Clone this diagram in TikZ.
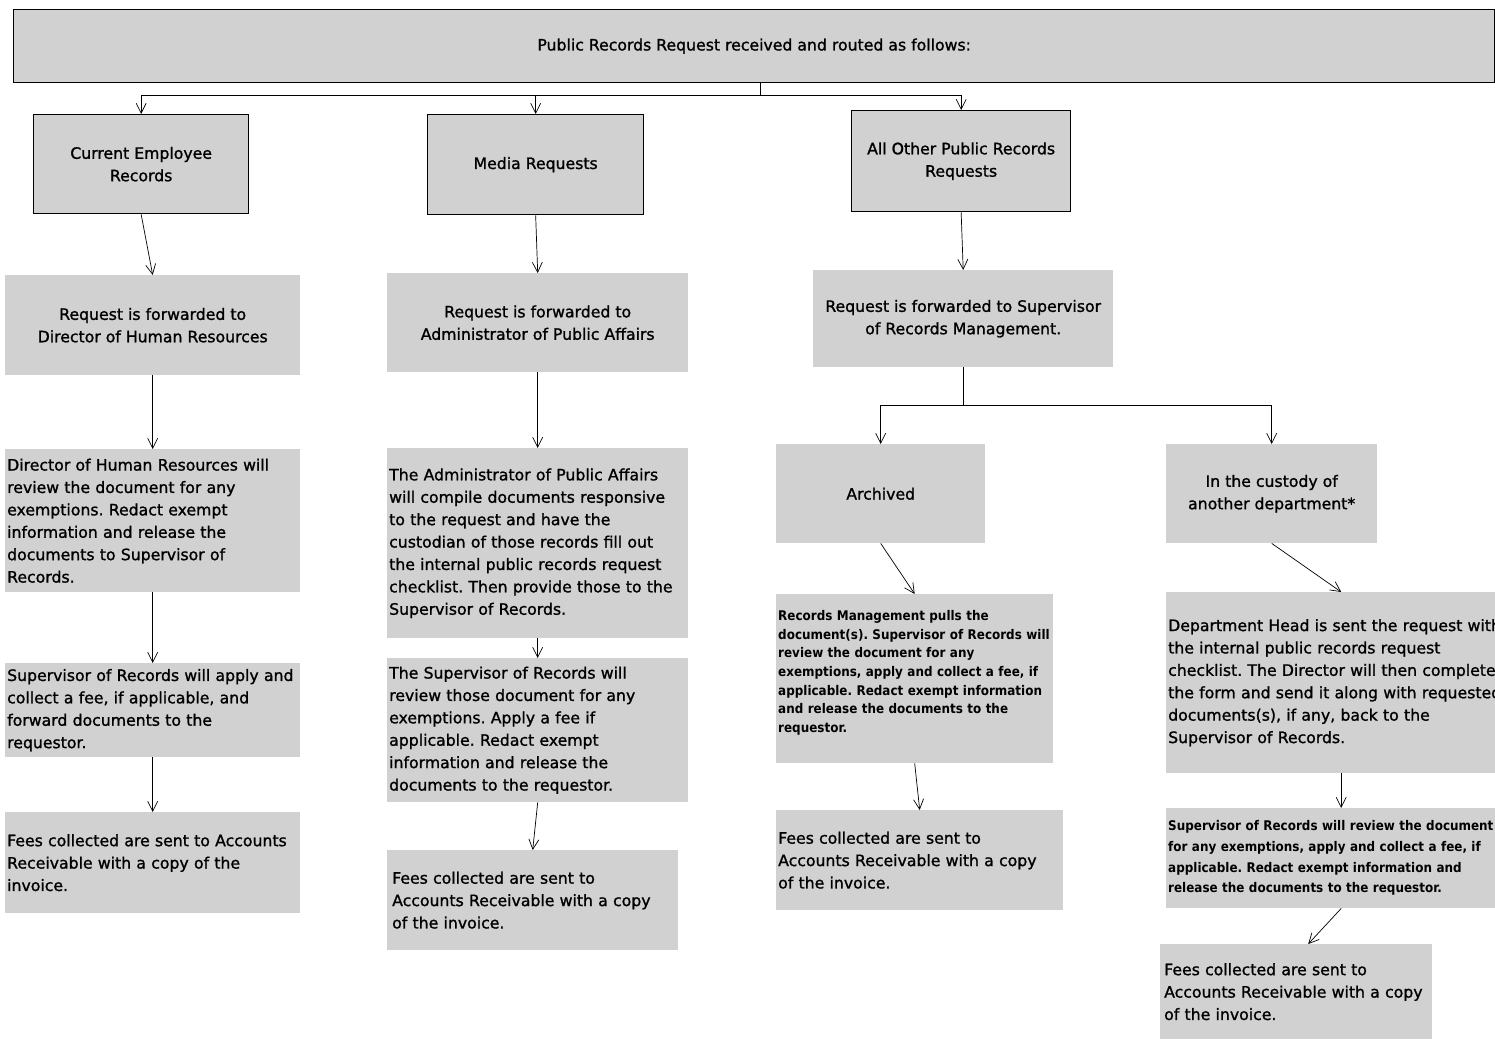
\documentclass[tikz,border=0pt]{standalone}
\usepackage{fontspec}
\setmainfont{DejaVu Sans}[FakeBold=1.2]
\newfontfamily\smallfam{DejaVu Sans}[FakeStretch=0.9]
\usetikzlibrary{arrows.meta}
\definecolor{boxgray}{gray}{0.82}
\frenchspacing
\tikzset{
 bx/.style={fill=boxgray, anchor=north west, inner xsep=2pt, inner ysep=0pt, font=\frenchspacing\fontsize{15.7}{22.4}\selectfont},
 catbox/.style={bx, draw=black, line width=1.3pt, align=center},
 cbox/.style={bx, align=center},
 lbox/.style={bx, align=left},
 sbox/.style={lbox, font=\frenchspacing\smallfam\bfseries\fontsize{13.3}{18.7}\selectfont},
 arr/.style={draw=black, line width=0.7pt, -{Straight Barb[length=10pt,width=10pt]}},
 ln/.style={draw=black, line width=0.7pt}
}
\begin{document}
\begin{tikzpicture}[x=1pt,y=-1pt]
\useasboundingbox (0,0) rectangle (1495,1039);
\clip (0,0) rectangle (1495,1039);
% banner
\node[catbox, minimum width=1481pt, minimum height=73pt] (banner) at (13,9) {Public Records Request received and routed as follows:};
% categories
\node[catbox, minimum width=215pt, minimum height=99pt] (cer) at (33,114) {Current Employee\\Records};
\node[catbox, minimum width=216pt, minimum height=100pt] (media) at (427,114) {Media Requests};
\node[catbox, minimum width=219pt, minimum height=101pt] (other) at (851,110) {All Other Public Records\\Requests};
% row 2
\node[cbox, minimum width=295pt, minimum height=100pt] (l2) at (5,275) {Request is forwarded to\\Director of Human Resources};
\node[cbox, minimum width=301pt, minimum height=99pt] (m2) at (387,273) {Request is forwarded to\\Administrator of Public Affairs};
\node[cbox, minimum width=300pt, minimum height=97pt] (r2) at (813,270) {Request is forwarded to Supervisor\\of Records Management.};
% row 3
\node[lbox, minimum width=295pt, minimum height=143pt, text width=291pt] (l3) at (5,449) {Director of Human Resources will\\review the document for any\\exemptions. Redact exempt\\information and release the\\documents to Supervisor of\\Records.};
\node[lbox, minimum width=301pt, minimum height=190pt, text width=297pt] (m3) at (387,448) {The Administrator of Public Affairs\\will compile documents responsive\\to the request and have the\\custodian of those records fill out\\the internal public records request\\checklist. Then provide those to the\\Supervisor of Records.};
\node[cbox, minimum width=209pt, minimum height=99pt] (arch) at (776,444) {Archived};
\node[cbox, minimum width=211pt, minimum height=99pt] (cust) at (1166,444) {In the custody of\\another department*};
% row 4
\node[lbox, minimum width=295pt, minimum height=94pt, text width=291pt] (l4) at (5,663) {Supervisor of Records will apply and\\collect a fee, if applicable, and\\forward documents to the\\requestor.};
\node[lbox, minimum width=301pt, minimum height=144pt, text width=297pt] (m4) at (387,658) {The Supervisor of Records will\\review those document for any\\exemptions. Apply a fee if\\applicable. Redact exempt\\information and release the\\documents to the requestor.};
\node[sbox, minimum width=277pt, minimum height=169pt, text width=273pt] (archdet) at (776,594) {Records Management pulls the\\document(s). Supervisor of Records will\\review the document for any\\exemptions, apply and collect a fee, if\\applicable. Redact exempt information\\and release the documents to the\\requestor.\\[-4pt]\mbox{}};
\node[lbox, minimum width=350pt, minimum height=181pt, text width=346pt] (custdet) at (1166,592) {Department Head is sent the request with\\the internal public records request\\checklist. The Director will then complete\\the form and send it along with requested\\documents(s), if any, back to the\\Supervisor of Records.};
% row 5
\node[lbox, minimum width=295pt, minimum height=101pt, text width=291pt] (l5) at (5,812) {Fees collected are sent to Accounts\\Receivable with a copy of the\\invoice.};
\node[lbox, minimum width=291pt, minimum height=100pt, text width=281pt, inner xsep=5pt] (m5) at (387,850) {Fees collected are sent to\\Accounts Receivable with a copy\\of the invoice.};
\node[lbox, minimum width=287pt, minimum height=100pt, text width=283pt] (archfees) at (776,810) {Fees collected are sent to\\Accounts Receivable with a copy\\of the invoice.};
\node[sbox, minimum width=350pt, minimum height=100pt, text width=346pt, font=\frenchspacing\smallfam\bfseries\fontsize{13.3}{20.7}\selectfont] (custsup) at (1166,808) {Supervisor of Records will review the document\\for any exemptions, apply and collect a fee, if\\applicable. Redact exempt information and\\release the documents to the requestor.};
\node[lbox, minimum width=272pt, minimum height=95pt, text width=264pt, inner xsep=4pt] (custfees) at (1160,944) {Fees collected are sent to\\Accounts Receivable with a copy\\of the invoice.};
% connectors top
\draw[ln] ([xshift=6pt]banner.south) -- ++(0,12) coordinate (tj);
\draw[arr] (tj) -| (cer.north);
\draw[arr] (tj) -| (media.north);
\draw[arr] (tj) -| (other.north);
\draw[arr] (cer.south) -- (l2.north);
\draw[arr] (media.south) -- (m2.north);
\draw[arr] (other.south) -- (r2.north);
% left column
\draw[arr] (l2.south) -- (l3.north);
\draw[arr] (l3.south) -- (l4.north);
\draw[arr] (l4.south) -- (l5.north);
% middle column
\draw[arr] (m2.south) -- (m3.north);
\draw[arr] (m3.south) -- (m4.north);
\draw[arr] (m4.south) -- (m5.north);
% right branch
\draw[ln] (r2.south) -- ++(0,38) coordinate (rj);
\draw[arr] (rj) -| (arch.north);
\draw[arr] (rj) -| (cust.north);
\draw[arr] (arch.south) -- (archdet.north);
\draw[arr] (archdet.south) -- (archfees.north);
\draw[arr] (cust.south) -- (custdet.north);
\draw[arr] (custdet.south) -- (custsup.north);
\draw[arr] (custsup.south) -- ([xshift=12pt]custfees.north);
\end{tikzpicture}
\end{document}
